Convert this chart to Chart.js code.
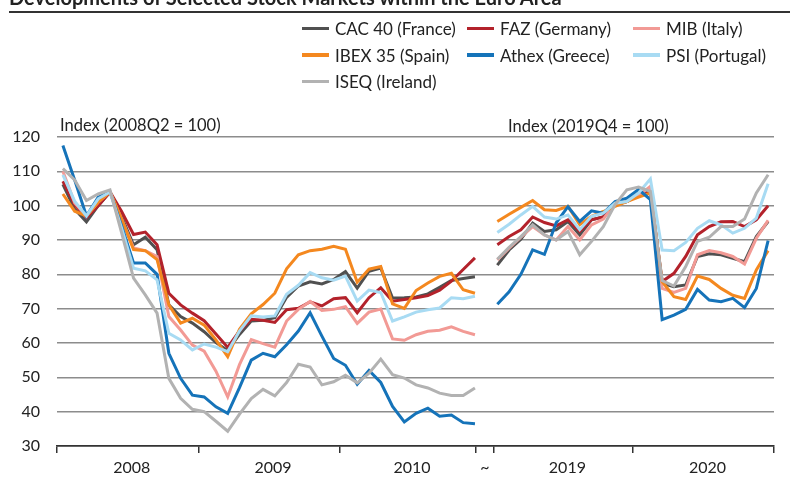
<!DOCTYPE html>
<html>
<head>
<meta charset="utf-8">
<script src="https://cdn.jsdelivr.net/npm/chart.js@4"></script>
<style>
  body { margin: 0; background: #fff; }
  #wrap { position: relative; width: 790px; height: 477px; overflow: hidden; font-family: Lato, sans-serif; color: #222; }
  #chart { position: absolute; left: 0; top: 0; }
  .title { position: absolute; left: 9px; top: -13px; font-size: 20px; line-height: 20px; font-weight: bold; white-space: nowrap; }
  .rule { position: absolute; left: 9px; right: 0; top: 11px; height: 0; border-top: 2px solid #333; }
  #legend { position: absolute; left: 302px; top: 15px; display: grid; grid-template-columns: 165px 166px auto; grid-auto-rows: 26.7px; font-size: 17px; }
  #legend .item { display: flex; align-items: center; white-space: nowrap; }
  #legend .swatch { width: 27px; height: 3.5px; margin-right: 6px; }
  .unit { position: absolute; font-size: 16.5px; line-height: 20px; white-space: nowrap; }
</style>
</head>
<body>
<div id="wrap">
  <canvas id="chart" width="790" height="477"></canvas>
  <div class="title">Developments of Selected Stock Markets within the Euro Area</div>
  <div class="rule"></div>
  <div id="legend"></div>
  <div class="unit" style="left:60px; top:115px">Index (2008Q2 = 100)</div>
  <div class="unit" style="left:508px; top:116px">Index (2019Q4 = 100)</div>
</div>
<script>
// monthly values, Jan 2008 - Dec 2010 (index 2008Q2 = 100)
var cac0810   = [106.2, 99, 95.3, 100, 104, 96.7, 88.6, 90.8, 87.2, 71.1, 67.7, 65.8,
                 63.3, 60.1, 57.8, 62.5, 66.4, 66.6, 67.4, 73.3, 76.6, 77.8, 77.2, 78.5,
                 80.8, 76, 80.9, 81.8, 73.1, 73.2, 73.4, 74.3, 76.2, 78.2, 78.8, 79.3];
var faz0810   = [107.1, 100.3, 96.5, 100, 104, 98.2, 91.6, 92.3, 88.6, 74.5, 71.1, 68.7,
                 66.5, 62.6, 58.7, 63.5, 66.9, 66.6, 66, 69.7, 70.1, 72, 70.8, 72.9,
                 73.2, 68.8, 73.2, 76.1, 72.2, 72.7, 73.2, 73.8, 75.4, 78, 81.4, 84.8];
var mib0810   = [110, 100.8, 97, 101, 104, 96, 87.7, 86.9, 85.2, 67.7, 63.8, 59.4,
                 57.6, 51.8, 44.3, 53.7, 61, 59.8, 58.8, 66.4, 69.8, 72.1, 69.5, 69.8,
                 70.6, 65.7, 69, 69.9, 61.2, 60.8, 62.4, 63.4, 63.7, 64.7, 63.4, 62.4];
var ibex0810  = [103.4, 98.4, 97, 101, 104, 96, 87.2, 86.9, 84.3, 71.1, 65.8, 67.2,
                 65.2, 60.9, 56, 64, 68.5, 71.2, 74.5, 81.6, 85.7, 86.9, 87.3, 88.2,
                 87.3, 77.7, 81.5, 82.3, 71.4, 70.1, 75.3, 77.5, 79.4, 80.3, 75.5, 74.5];
var athex0810 = [117.5, 107.5, 97, 102.5, 104, 94, 83.3, 83.3, 80, 57, 49.7, 44.8,
                 44.3, 41.4, 39.5, 47, 55, 57, 56, 59.5, 63.5, 68.8, 62, 55.5,
                 53.5, 48, 52, 48.5, 41.5, 37, 39.5, 41, 38.7, 39, 36.8, 36.5];
var psi0810   = [109, 101.3, 97, 102, 104, 93.3, 81.8, 81, 78.4, 62.8, 60.9, 58,
                 59.7, 58.8, 57.5, 63.5, 67.9, 67.6, 67.9, 74.2, 76.8, 80.5, 79, 78.3,
                 79.5, 72.2, 75.4, 74.7, 66.4, 67.6, 69, 69.7, 70.2, 73.2, 72.9, 73.6];
var iseq0810  = [110.8, 107.5, 101.5, 103.4, 104.6, 91.9, 78.9, 74, 68.7, 49.7, 43.9, 40.7,
                 40, 37.2, 34.3, 39.3, 43.8, 46.5, 44.6, 48.5, 53.8, 53, 47.8, 48.7,
                 50.6, 48.4, 51.2, 55.3, 50.8, 49.8, 47.8, 46.9, 45.4, 44.7, 44.7, 46.9];

// monthly values, Jan 2019 - Dec 2020 (index 2019Q4 = 100)
var cac1920   = [82.7, 87.1, 90.2, 94.9, 92.5, 93, 95.4, 91.5, 95.9, 96.7, 100.3, 101.2,
                 103.7, 104.2, 77.4, 76.4, 76.9, 85.2, 86, 85.7, 84.7, 83.7, 91, 95.4];
var faz1920   = [88.6, 91, 93, 96.7, 95.1, 94.1, 95.9, 92.5, 95.9, 96.7, 100.7, 101.2,
                 103.2, 103.7, 77.9, 80.3, 85.2, 91.5, 93.9, 95.3, 95.4, 93.9, 95.9, 100];
var mib1920   = [84.2, 87.6, 90.8, 93.9, 91.5, 90, 93.9, 90, 94.4, 96.1, 100.7, 101.5,
                 102.9, 105.6, 75.9, 74.7, 75.9, 85.7, 86.9, 86.3, 85.2, 83, 90.5, 95.7];
var ibex1920  = [95.4, 97.5, 99.5, 101.5, 98.8, 98.6, 99.8, 94.5, 96.9, 98.3, 99.8, 101.2,
                 102.5, 103.7, 77.9, 73.5, 72.7, 79.5, 78.5, 75.9, 73.9, 73, 81.3, 86.9];
var athex1920 = [71.3, 74.9, 80, 87.1, 85.8, 95, 99.7, 95.4, 98.5, 97.8, 101.2, 102.2,
                 104.7, 101.8, 66.8, 68.1, 69.8, 75.6, 72.5, 72, 73, 70.3, 75.9, 89.8];
var psi1920   = [92.2, 94.6, 97.3, 99.8, 96.7, 96.1, 97.3, 93, 96.9, 97.8, 100.7, 101.2,
                 103.7, 107.8, 87.1, 86.9, 89.3, 93.4, 95.6, 94.4, 92, 93.4, 96.4, 106.4];
var iseq1920  = [84.4, 87.9, 91, 94.4, 91.5, 90, 92.5, 85.7, 89.6, 93.9, 100.3, 104.6,
                 105.4, 104.2, 78.2, 76.6, 82.3, 89.6, 90.8, 93.9, 93.9, 96.1, 103.7, 109];

var seriesNames = ['CAC 40 (France)', 'FAZ (Germany)', 'MIB (Italy)', 'IBEX 35 (Spain)',
                   'Athex (Greece)', 'PSI (Portugal)', 'ISEQ (Ireland)'];
var yearLabels = ['2008', '2009', '2010', '2019', '2020'];
var yTicks = [30, 40, 50, 60, 70, 80, 90, 100, 110, 120];

var colors = ['#505050', '#b3222b', '#f29a95', '#f4881f', '#1573b9', '#a8dbf3', '#b2b2b2'];

// x axis in months; the second panel starts after a short break
var RIGHT_START = 36.9;
var X_MAX = 60.9;
var bounds = [0, 12, 24, 35.6, 37.1, 48.9, 60.9];
var yearPos = [];
for (var k = 0; k < bounds.length - 1; k++) {
    if (k === 3) continue;
    yearPos.push((bounds[k] + bounds[k + 1]) / 2 + 0.35);
}
var breakPos = (bounds[3] + bounds[4]) / 2;

function points(a, b) {
    var out = a.map(function (v, i) { return { x: i + 0.5, y: v }; });
    out.push({ x: breakPos, y: null });
    return out.concat(b.map(function (v, j) { return { x: RIGHT_START + j + 0.5, y: v }; }));
}

var pairs = [[cac0810, cac1920], [faz0810, faz1920], [mib0810, mib1920], [ibex0810, ibex1920],
             [athex0810, athex1920], [psi0810, psi1920], [iseq0810, iseq1920]];

var datasets = pairs.map(function (p, i) {
    return {
        label: seriesNames[i],
        data: points(p[0], p[1]),
        borderColor: colors[i],
        backgroundColor: colors[i],
        borderWidth: 3,
        pointRadius: 0,
        tension: 0,
        spanGaps: false,
        order: pairs.length - i
    };
});

Chart.defaults.font.family = 'Lato, sans-serif';
Chart.defaults.color = '#222';

var ctx = document.getElementById('chart').getContext('2d');
var myChart = new Chart(ctx, {
    type: 'line',
    data: { datasets: datasets },
    options: {
        responsive: false,
        animation: false,
        layout: { padding: { top: 137, right: 16, bottom: 0, left: 10 } },
        plugins: { legend: { display: false }, tooltip: { enabled: false } },
        scales: {
            x: {
                type: 'linear',
                min: 0,
                max: X_MAX,
                afterBuildTicks: function (scale) {
                    var vals = bounds.concat(yearPos, [breakPos]).sort(function (a, b) { return a - b; });
                    scale.ticks = vals.map(function (v) { return { value: v }; });
                },
                afterFit: function (scale) { scale.height = 31; },
                ticks: {
                    autoSkip: false,
                    maxRotation: 0,
                    padding: 5,
                    font: { size: 16 },
                    color: '#222',
                    callback: function (v) {
                        var i = yearPos.indexOf(v);
                        if (i >= 0) return yearLabels[i];
                        if (v === breakPos) return '~';
                        return '';
                    }
                },
                grid: {
                    drawOnChartArea: false,
                    tickLength: 7,
                    lineWidth: 1.5,
                    tickColor: function (c) {
                        return c.tick && bounds.indexOf(c.tick.value) >= 0 ? '#333' : 'rgba(0,0,0,0)';
                    }
                },
                border: { display: true, color: '#333', width: 1.5 }
            },
            y: {
                min: 30,
                max: 120,
                afterBuildTicks: function (scale) {
                    scale.ticks = yTicks.map(function (v) { return { value: v }; });
                },
                afterFit: function (scale) { scale.width = 47; },
                ticks: { padding: 17, font: { size: 16 }, color: '#222' },
                grid: {
                    drawTicks: false,
                    lineWidth: 1.5,
                    color: function (c) { return c.tick && c.tick.value === 30 ? '#333' : '#8c8c8c'; }
                },
                border: { display: false }
            }
        }
    }
});

// html legend, three columns like the original
var legend = document.getElementById('legend');
myChart.data.datasets.forEach(function (ds) {
    var item = document.createElement('div');
    item.className = 'item';
    var sw = document.createElement('span');
    sw.className = 'swatch';
    sw.style.background = ds.borderColor;
    item.appendChild(sw);
    item.appendChild(document.createTextNode(ds.label));
    legend.appendChild(item);
});
</script>
</body>
</html>
